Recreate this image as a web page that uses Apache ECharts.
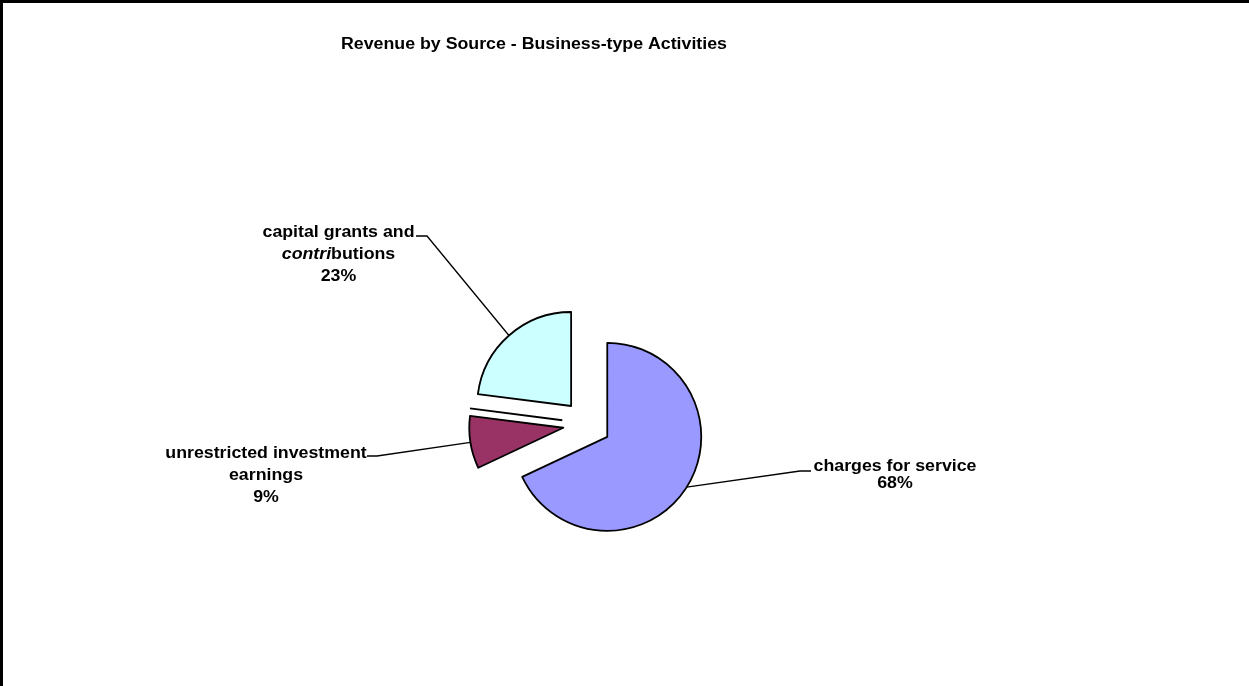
<!DOCTYPE html>
<html>
<head>
<meta charset="utf-8">
<title>Revenue by Source - Business-type Activities</title>
<script src="https://cdn.jsdelivr.net/npm/echarts@6/dist/echarts.min.js"></script>
<style>
  html, body { margin: 0; padding: 0; background: #fff; }
  #frame {
    width: 1249px; height: 686px; box-sizing: border-box;
    border-top: 3px solid #000; border-left: 3px solid #000;
    position: relative; overflow: hidden;
  }
  #chart { position: absolute; left: -3px; top: -3px; width: 1249px; height: 686px; }
</style>
</head>
<body>
<div id="frame"><div id="chart"></div></div>
<script>
// Revenue sources, share of business-type revenue (%)
const categories = [
  'charges for service',
  'unrestricted investment\nearnings',
  'capital grants and\n{it|contri}butions'
];
const shares = [68, 9, 23];
const colors = ['#9999FF', '#993366', '#CCFFFF'];

// Pie geometry
const PIE = { cx: 587, cy: 424, r: 94, explode: 24 };

// Label blocks (centre x, top y, line height) and the leader's elbow/hook near the text
const labelSpots = [
  { x: 895, y: 458.5, lh: 17, elbow: [800, 471], hook: [811, 471] },
  { x: 266, y: 443, lh: 21.7, elbow: [377, 456], hook: [367, 456] },
  { x: 338.5, y: 222, lh: 22, elbow: [427, 236], hook: [416, 236] }
];

const FONT = 'Liberation Sans, Arial, sans-serif';
const STRETCH = 1.11;

const total = shares.reduce((a, b) => a + b, 0);

// start/end angles (radians, clockwise from 12 o'clock)
const spans = [];
shares.reduce((acc, v) => {
  const a0 = acc / total * Math.PI * 2;
  const a1 = (acc + v) / total * Math.PI * 2;
  spans.push([a0, a1]);
  return acc + v;
}, 0);
const dir = t => [Math.sin(t), -Math.cos(t)];

const chart = echarts.init(document.getElementById('chart'));

const pieData = categories.map((name, i) => ({
  name: name,
  value: shares[i],
  selected: true,
  itemStyle: { color: colors[i] }
}));

const graphics = [];

// Title
graphics.push({
  type: 'text', x: 534, y: 45, scaleX: STRETCH, silent: true,
  style: {
    text: 'Revenue by Source - Business-type Activities',
    fill: '#000', fontFamily: FONT, fontSize: 16, fontWeight: 'bold',
    textAlign: 'center', align: 'center', textVerticalAlign: 'middle', verticalAlign: 'middle'
  }
});

categories.forEach((name, i) => {
  const s = labelSpots[i];
  const mid = (spans[i][0] + spans[i][1]) / 2;
  const d = dir(mid);
  const reach = PIE.r + PIE.explode;
  const start = [PIE.cx + reach * d[0], PIE.cy + reach * d[1]];
  const pct = Math.round(shares[i] / total * 100);

  graphics.push({
    type: 'polyline', silent: true,
    shape: { points: [start, s.elbow, s.hook] },
    style: { stroke: '#000', lineWidth: 1.3, fill: null }
  });
  graphics.push({
    type: 'text', x: s.x, y: s.y, scaleX: STRETCH, silent: true,
    style: {
      text: name + '\n' + pct + '%',
      fill: '#000', fontFamily: FONT, fontSize: 16, fontWeight: 'bold',
      lineHeight: s.lh,
      textAlign: 'center', align: 'center', textVerticalAlign: 'top', verticalAlign: 'top',
      rich: {
        it: { fontStyle: 'italic', fontWeight: 'bold', fontSize: 16, fontFamily: FONT, fill: '#000', lineHeight: s.lh }
      }
    }
  });
});

// Double edge drawn just above the small slice's upper side
(function () {
  const i = 1;
  const mid = (spans[i][0] + spans[i][1]) / 2;
  const d = dir(mid);
  const vx = PIE.cx + PIE.explode * d[0];
  const vy = PIE.cy + PIE.explode * d[1];
  const e = dir(spans[i][1]);
  const lift = 7.5;
  graphics.push({
    type: 'line', silent: true,
    shape: { x1: vx - 1, y1: vy - lift, x2: vx + PIE.r * e[0], y2: vy + PIE.r * e[1] - lift },
    style: { stroke: '#000', lineWidth: 1.8 }
  });
})();

chart.setOption({
  animation: false,
  series: [{
    type: 'pie',
    center: [PIE.cx, PIE.cy],
    radius: PIE.r,
    startAngle: 90,
    clockwise: true,
    selectedMode: 'multiple',
    selectedOffset: PIE.explode,
    data: pieData,
    itemStyle: { borderColor: '#000', borderWidth: 1.8 },
    emphasis: { disabled: true },
    label: { show: false },
    labelLine: { show: false }
  }],
  graphic: { elements: graphics }
});
</script>
</body>
</html>
